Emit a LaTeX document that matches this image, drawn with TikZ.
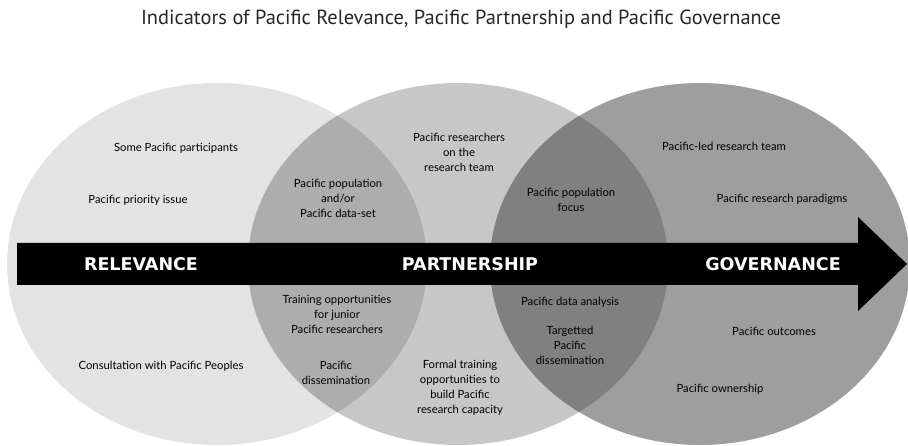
\documentclass[tikz,border=0pt]{standalone}
\usepackage{fontspec}
\setmainfont{Lato}
\newfontfamily\titlefont{PT Sans}
\newfontfamily\bandfont{DejaVu Sans}
\definecolor{relfill}{gray}{0.89}
\definecolor{partfill}{gray}{0.78}
\definecolor{govfill}{gray}{0.62}
\definecolor{rpfill}{gray}{0.68}
\definecolor{pgfill}{gray}{0.50}
\begin{document}
\begin{tikzpicture}[x=1pt,y=-1pt,
    item/.style={align=center,inner sep=0pt,text=black,
      font=\fontsize{11.3}{15}\selectfont},
    bandtext/.style={inner sep=0pt,text=white,
      font=\bandfont\fontsize{17.5}{19}\selectfont\bfseries}]
\useasboundingbox (0,0) rectangle (908,446);
\fill[white] (0,0) rectangle (908,446);

\node (title) at (461,25)[anchor=base,inner sep=0pt,text=black!85,
  font=\titlefont\fontsize{20.4}{24}\selectfont]
  {Indicators of Pacific Relevance, Pacific Partnership and Pacific Governance};

% three circles
\fill[relfill]  (217,264) ellipse (210 and 181);
\fill[partfill] (458,264) ellipse (210 and 181);
\fill[govfill]  (700,264) ellipse (210 and 181);

% overlaps
\begin{scope}
  \clip (217,264) ellipse (210 and 181);
  \fill[rpfill] (458,264) ellipse (210 and 181);
\end{scope}
\begin{scope}
  \clip (700,264) ellipse (210 and 181);
  \fill[pgfill] (458,264) ellipse (210 and 181);
\end{scope}

% arrow
\fill[black] (17,243) -- (858,243) -- (858,217) -- (907,264)
  -- (858,311) -- (858,285) -- (17,285) -- cycle;

\node (relevance)   at (141,264)[bandtext]{RELEVANCE};
\node (partnership) at (470,264)[bandtext]{PARTNERSHIP};
\node (governance)  at (773,264)[bandtext]{GOVERNANCE};

% relevance
\node (some)    at (176,148)[item]{Some Pacific participants};
\node (issue)   at (138,200)[item]{Pacific priority issue};
\node (consult) at (161,366)[item]{Consultation with Pacific Peoples};

% relevance + partnership
\node (popset)  at (338,198)[item]{Pacific population\\and/or\\Pacific data-set};
\node (junior)  at (337,314)[item]{Training opportunities\\for junior\\Pacific researchers};
\node (pdiss)   at (336,373)[item]{Pacific\\dissemination};

% partnership
\node (team)    at (459,152)[item]{Pacific researchers\\on the\\research team};
\node (formal)  at (460,388)[item]{Formal training\\opportunities to\\build Pacific\\research capacity};

% partnership + governance
\node (focus)    at (571,200)[item]{Pacific population\\focus};
\node (analysis) at (570,302)[item]{Pacific data analysis};
\node (target)   at (570,345)[item]{Targetted\\Pacific\\dissemination};

% governance
\node (led)       at (724,146)[item]{Pacific-led research team};
\node (paradigms) at (782,199)[item]{Pacific research paradigms};
\node (outcomes)  at (774,331)[item]{Pacific outcomes};
\node (owner)     at (720,389)[item]{Pacific ownership};

\end{tikzpicture}
\end{document}
